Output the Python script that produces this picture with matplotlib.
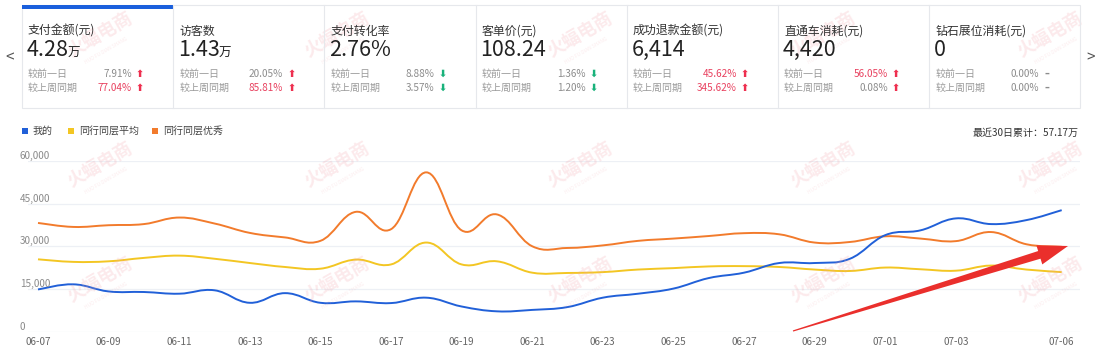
import numpy as np
import matplotlib
matplotlib.use("Agg")
import matplotlib.pyplot as plt
from matplotlib.path import Path
from matplotlib.patches import PathPatch, Polygon, Rectangle

plt.rcParams['font.family'] = ['Noto Sans CJK SC', 'DejaVu Sans']

#--------------data-------------
dates = ['06-07', '06-08', '06-09', '06-10', '06-11', '06-12', '06-13', '06-14', '06-15', '06-16',
         '06-17', '06-18', '06-19', '06-20', '06-21', '06-22', '06-23', '06-24', '06-25', '06-26',
         '06-27', '06-28', '06-29', '06-30', '07-01', '07-02', '07-03', '07-04', '07-05', '07-06']
mine = [14800, 16600, 14100, 13900, 13300, 14500, 10100, 13500, 10100, 10600,
        10000, 11900, 8800, 7100, 7600, 8600, 11900, 13300, 15100, 18800,
        20700, 24100, 24100, 25600, 33900, 35600, 39800, 37800, 39200, 42700]
avg = [25400, 24500, 24700, 25900, 26700, 25600, 24100, 22700, 22100, 25300,
       23600, 31300, 23600, 24700, 20700, 20600, 20900, 21800, 22300, 22900,
       23000, 22700, 21800, 21300, 22500, 21900, 21400, 23200, 21800, 20900]
best = [38200, 36800, 37400, 37800, 40100, 38000, 34700, 33100, 31900, 42100,
        36000, 56000, 35600, 41200, 30000, 29400, 30300, 31900, 32700, 33600,
        34600, 34200, 31300, 31500, 33500, 32700, 31800, 35000, 30700, 29800]
series_names = ['我的', '同行同层平均', '同行同层优秀']
series_colors = ['#2160d8', '#f3c623', '#f27b2c']
y_ticks = [0, 15000, 30000, 45000, 60000]
x_label_idx = list(range(0, 28, 2)) + [29]
total_text = '最近30日累计：57.17万'

# cards
card_titles = ['支付金额(元)', '访客数', '支付转化率', '客单价(元)', '成功退款金额(元)', '直通车消耗(元)', '钻石展位消耗(元)']
card_values = ['4.28', '1.43', '2.76%', '108.24', '6,414', '4,420', '0']
card_units = ['万', '万', '', '', '', '', '']
card_day = ['7.91%', '20.05%', '8.88%', '1.36%', '45.62%', '56.05%', '0.00%']
card_week = ['77.04%', '85.81%', '3.57%', '1.20%', '345.62%', '0.08%', '0.00%']
card_day_dir = ['up', 'up', 'down', 'down', 'up', 'up', 'flat']
card_week_dir = ['up', 'up', 'down', 'down', 'up', 'up', 'flat']
card_day_red = [False, False, False, False, True, True, False]
card_week_red = [True, True, False, False, True, False, False]

W, H = 1100, 350
fig = plt.figure(figsize=(11, 3.5), dpi=100)
fig.patch.set_facecolor('white')


def fx(x):
    return x / W


def fy(y):
    return 1 - y / H


#-----------watermarks---------
for wy in [35, 165, 280]:
    for wx in [100, 337, 580, 823, 1050]:
        fig.text(fx(wx), fy(wy), '火蝠电商', color='#f2a0a8', alpha=0.22, fontsize=13,
                 fontweight='bold', rotation=30, ha='center', va='center', zorder=0)
        fig.text(fx(wx + 6), fy(wy + 16), 'HUO FU DIAN SHANG', color='#f2a0a8', alpha=0.2,
                 fontsize=3.5, rotation=30, ha='center', va='center', zorder=0)

#-----------cards---------
card_left = 22
card_w = 151.2
fig.add_artist(Rectangle((fx(card_left), fy(108)), fx(card_w * 7), (108 - 5) / H,
                         transform=fig.transFigure, fill=False, edgecolor='#e6e8ec', lw=0.8))
for i in range(1, 7):
    x = card_left + card_w * i
    fig.add_artist(plt.Line2D([fx(x), fx(x)], [fy(5), fy(108)], transform=fig.transFigure,
                              color='#e6e8ec', lw=0.8))
fig.add_artist(Rectangle((fx(card_left), fy(8.5)), fx(card_w), 3.5 / H,
                         transform=fig.transFigure, color='#1a5fdc', lw=0))

up_c, down_c, gray_c, red_c = '#ee2f4f', '#19b27b', '#8c8c8c', '#e8415f'
arrow_sym = {'up': '⬆', 'down': '⬇', 'flat': '–'}
for i in range(7):
    L = card_left + card_w * i
    fig.text(fx(L + 6), fy(31), card_titles[i], fontsize=8.6, color='#333333', va='center')
    fig.text(fx(L + 5), fy(50), card_values[i], fontsize=15.5, color='#222222', va='center')
    if card_units[i]:
        nd = len(card_values[i])
        fig.text(fx(L + 6 + nd * 9.8), fy(53), card_units[i], fontsize=9, color='#222222', va='center')
    for row_y, lbl, val, d, red in [(74, '较前一日', card_day[i], card_day_dir[i], card_day_red[i]),
                                    (88, '较上周同期', card_week[i], card_week_dir[i], card_week_red[i])]:
        fig.text(fx(L + 6), fy(row_y), lbl, fontsize=7.2, color='#9a9a9a', va='center')
        fig.text(fx(L + 110), fy(row_y), val, fontsize=7.2, color=red_c if red else gray_c,
                 va='center', ha='right')
        ac = {'up': up_c, 'down': down_c, 'flat': gray_c}[d]
        fig.text(fx(L + 118), fy(row_y), arrow_sym[d], fontsize=7, color=ac, va='center',
                 ha='center', fontweight='bold', family=['DejaVu Sans'])

fig.text(fx(10), fy(58), '<', fontsize=11, color='#555555', ha='center', va='center')
fig.text(fx(1091), fy(58), '>', fontsize=11, color='#555555', ha='center', va='center')

#-----------legend---------
leg_x = [22, 68, 152]
for lx, name, c in zip(leg_x, series_names, series_colors):
    fig.add_artist(Rectangle((fx(lx), fy(134)), 6 / W, 6 / H, transform=fig.transFigure, color=c, lw=0))
    fig.text(fx(lx + 11), fy(131), name, fontsize=7.2, color='#444444', va='center')
fig.text(fx(1079), fy(133), total_text, fontsize=7.2, color='#333333', va='center', ha='right')

#-----------chart---------
ax_l, ax_r, ax_t, ax_b = 28, 1080, 161, 331.5
ax = fig.add_axes([fx(ax_l), fy(ax_b), (ax_r - ax_l) / W, (ax_b - ax_t) / H])
ax.set_facecolor('none')
x = np.arange(len(dates))
px_per_day = 35.3
ax.set_xlim((ax_l - 38) / px_per_day, (ax_r - 38) / px_per_day)
ax.set_ylim(0, 60000)
for s in ax.spines.values():
    s.set_visible(False)
ax.set_xticks([])
ax.set_yticks([])
for v in y_ticks:
    ax.axhline(v, color='#edf0f5', lw=0.9, zorder=1)


def smooth(xs, ys, s=0.2):
    n = len(xs)
    verts = [(xs[0], ys[0])]
    codes = [Path.MOVETO]
    for i in range(n - 1):
        a = max(i - 1, 0)
        b = min(i + 2, n - 1)
        c1 = (xs[i] + (xs[i + 1] - xs[a]) * s, ys[i] + (ys[i + 1] - ys[a]) * s)
        c2 = (xs[i + 1] - (xs[b] - xs[i]) * s, ys[i + 1] - (ys[b] - ys[i]) * s)
        verts += [c1, c2, (xs[i + 1], ys[i + 1])]
        codes += [Path.CURVE4] * 3
    return Path(verts, codes)


for ys, c in zip([avg, best, mine], [series_colors[1], series_colors[2], series_colors[0]]):
    ax.add_patch(PathPatch(smooth(x, ys), fill=False, edgecolor=c, lw=1.4, zorder=3))

for v in y_ticks:
    yp = ax_b - (v / 60000) * (ax_b - ax_t)
    fig.text(fx(20), fy(yp - 5), f'{v:,}', fontsize=7.2, color='#8a8a8a', va='center', ha='left')
for i in x_label_idx:
    fig.text(fx(38 + i * px_per_day), fy(342), dates[i], fontsize=7.2, color='#666666',
             va='center', ha='center')

#-----------red arrow---------
tail = np.array([793.0, 331.0])
tip = np.array([1068.0, 246.0])
u = (tip - tail) / np.linalg.norm(tip - tail)
n = np.array([-u[1], u[0]])
base = tip - 30 * u
pts = [tail + 0.6 * n, base + 4 * n, base + 10 * n, tip, base - 10 * n, base - 4 * n, tail - 0.6 * n]
fig.add_artist(Polygon([(fx(p[0]), fy(p[1])) for p in pts], closed=True, transform=fig.transFigure,
                       color='#ea2f2c', lw=0, zorder=10))

fig.savefig('out.png', dpi=100, facecolor='white')
